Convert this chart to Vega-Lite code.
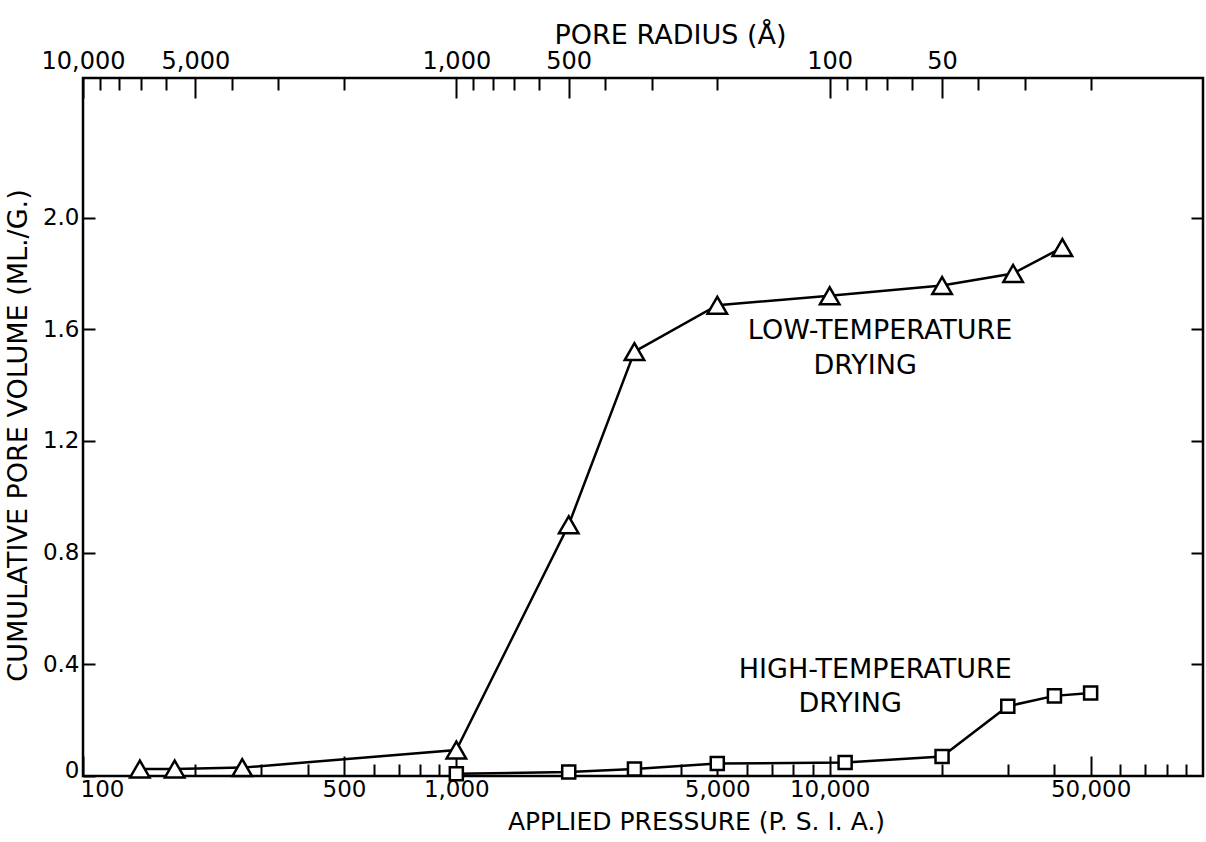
{
  "$schema": "https://vega.github.io/schema/vega-lite/v6.json",
  "width": 1120,
  "height": 698,
  "autosize": "none",
  "padding": {"left": 83, "top": 78, "right": 3, "bottom": 66},
  "background": "white",
  "config": {
    "view": {"stroke": "black", "strokeWidth": 2.5},
    "font": "DejaVu Sans",
    "axis": {
      "domain": false,
      "grid": false,
      "labelFont": "DejaVu Sans",
      "labelColor": "black",
      "labelFontSize": 23,
      "tickColor": "black",
      "tickWidth": 2,
      "titleFont": "DejaVu Sans",
      "titleColor": "black",
      "titleFontSize": 25,
      "titleFontWeight": "normal"
    },
    "text": {"font": "DejaVu Sans", "fontSize": 27, "color": "black"}
  },
  "datasets": {
    "pts": [
      {"series": "Low-temperature drying", "pressure": 142, "volume": 0.025},
      {"series": "Low-temperature drying", "pressure": 176, "volume": 0.025},
      {"series": "Low-temperature drying", "pressure": 267, "volume": 0.03},
      {"series": "Low-temperature drying", "pressure": 1000, "volume": 0.093},
      {"series": "Low-temperature drying", "pressure": 2000, "volume": 0.9},
      {"series": "Low-temperature drying", "pressure": 3000, "volume": 1.52},
      {"series": "Low-temperature drying", "pressure": 5000, "volume": 1.686},
      {"series": "Low-temperature drying", "pressure": 10000, "volume": 1.72},
      {"series": "Low-temperature drying", "pressure": 20000, "volume": 1.757},
      {"series": "Low-temperature drying", "pressure": 31000, "volume": 1.8},
      {"series": "Low-temperature drying", "pressure": 42000, "volume": 1.893},
      {"series": "High-temperature drying", "pressure": 1000, "volume": 0.008},
      {"series": "High-temperature drying", "pressure": 2000, "volume": 0.014},
      {"series": "High-temperature drying", "pressure": 3000, "volume": 0.025},
      {"series": "High-temperature drying", "pressure": 5000, "volume": 0.045},
      {"series": "High-temperature drying", "pressure": 11000, "volume": 0.048},
      {"series": "High-temperature drying", "pressure": 20000, "volume": 0.07},
      {"series": "High-temperature drying", "pressure": 30000, "volume": 0.25},
      {"series": "High-temperature drying", "pressure": 40000, "volume": 0.287},
      {"series": "High-temperature drying", "pressure": 50000, "volume": 0.297}
    ],
    "lowText": [
      {"label": "LOW-TEMPERATURE", "pressure": 13650, "volume": 1.594},
      {"label": "DRYING", "pressure": 12450, "volume": 1.47}
    ],
    "highText": [
      {"label": "HIGH-TEMPERATURE", "pressure": 13250, "volume": 0.38},
      {"label": "DRYING", "pressure": 11350, "volume": 0.258}
    ]
  },
  "resolve": {"axis": {"x": "independent", "y": "independent"}},
  "layer": [
    {
      "data": {"name": "pts"},
      "mark": {"type": "line", "color": "black", "strokeWidth": 2.5},
      "encoding": {
        "x": {
          "field": "pressure", "type": "quantitative",
          "scale": {"type": "log", "domain": [100, 100000]},
          "axis": {
            "orient": "bottom",
            "values": [100, 500, 1000, 5000, 10000, 50000],
            "format": ",",
            "tickSize": -20,
            "labelPadding": 22,
            "labelFlush": true,
            "labelFlushOffset": 3,
            "title": "APPLIED PRESSURE (P. S. I. A.)",
            "titleX": 613,
            "titleY": 45,
            "titleBaseline": "middle"
          }
        },
        "y": {
          "field": "volume", "type": "quantitative",
          "scale": {"domain": [0, 2.5]},
          "axis": {
            "orient": "left",
            "values": [0, 0.4, 0.8, 1.2, 1.6, 2.0],
            "labelExpr": "datum.value == 0 ? '0' : format(datum.value, '.1f')",
            "labelOffset": {"condition": {"test": "datum.value == 0", "value": -6}, "value": 0},
            "tickSize": -12,
            "labelPadding": 16,
            "title": "CUMULATIVE PORE VOLUME (ML./G.)",
            "titleFontSize": 27,
            "titleX": -65,
            "titleY": 357,
            "titleBaseline": "middle"
          }
        },
        "detail": {"field": "series"}
      }
    },
    {
      "data": {"name": "pts"},
      "mark": {"type": "point", "filled": true, "fill": "white", "stroke": "black", "strokeWidth": 2.5, "opacity": 1},
      "encoding": {
        "x": {
          "field": "pressure", "type": "quantitative",
          "scale": {"type": "log", "domain": [100, 100000]},
          "axis": {
            "orient": "bottom",
            "values": [200, 300, 400, 600, 700, 800, 900, 2000, 3000, 4000, 6000, 7000, 8000, 9000, 20000, 30000, 40000, 60000, 70000, 80000, 90000],
            "tickSize": -12,
            "labels": false,
            "title": null
          }
        },
        "y": {
          "field": "volume", "type": "quantitative",
          "scale": {"domain": [0, 2.5]},
          "axis": {
            "orient": "right",
            "values": [0.4, 0.8, 1.2, 1.6, 2.0],
            "tickSize": -12,
            "labels": false,
            "title": null
          }
        },
        "shape": {
          "field": "series", "type": "nominal",
          "scale": {"domain": ["Low-temperature drying", "High-temperature drying"], "range": ["triangle-up", "square"]},
          "legend": null
        },
        "size": {
          "field": "series", "type": "nominal",
          "scale": {"domain": ["Low-temperature drying", "High-temperature drying"], "range": [380, 170]},
          "legend": null
        }
      }
    },
    {
      "data": {"name": "lowText"},
      "mark": {"type": "text", "align": "center", "baseline": "middle"},
      "encoding": {
        "x": {
          "field": "pressure", "type": "quantitative",
          "scale": {"type": "log", "domain": [100, 100000]},
          "axis": {
            "orient": "top",
            "values": [100, 200, 1000, 2000, 10000, 20000],
            "labelExpr": "format(1000000 / datum.value, ',')",
            "labelFlush": false,
            "labelFontSize": 24,
            "tickSize": -20,
            "labelPadding": 25,
            "title": "PORE RADIUS (Å)",
            "titleFontSize": 27,
            "titleX": 587,
            "titleY": -43,
            "titleBaseline": "middle"
          }
        },
        "y": {"field": "volume", "type": "quantitative", "scale": {"domain": [0, 2.5]}, "axis": null},
        "text": {"field": "label"}
      }
    },
    {
      "data": {"name": "highText"},
      "mark": {"type": "text", "align": "center", "baseline": "middle"},
      "encoding": {
        "x": {
          "field": "pressure", "type": "quantitative",
          "scale": {"type": "log", "domain": [100, 100000]},
          "axis": {
            "orient": "top",
            "values": [111.111, 125, 142.857, 166.667, 250, 333.333, 500, 1111.11, 1250, 1428.57, 1666.67, 2500, 3333.33, 5000, 11111.1, 12500, 14285.7, 16666.7, 25000, 33333.3, 50000],
            "tickSize": -12,
            "labels": false,
            "title": null
          }
        },
        "y": {"field": "volume", "type": "quantitative", "scale": {"domain": [0, 2.5]}, "axis": null},
        "text": {"field": "label"}
      }
    }
  ]
}
